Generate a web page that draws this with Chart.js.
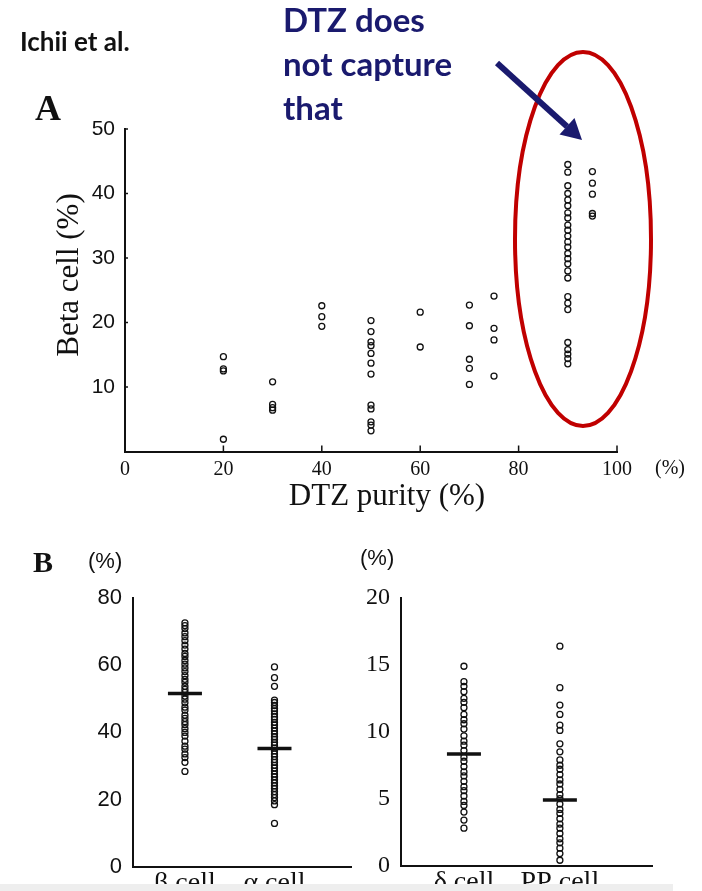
<!DOCTYPE html>
<html>
<head>
<meta charset="utf-8">
<title>Ichii et al.</title>
<script src="https://cdn.jsdelivr.net/npm/chart.js@4.4.1/dist/chart.umd.min.js"></script>
<style>
  html, body { margin: 0; padding: 0; background: #fff; }
  #page { position: relative; width: 702px; height: 891px; overflow: hidden; }
  canvas { position: absolute; }
  #chartA { left: 0; top: 0; }
  #chartBL { left: 0; top: 540px; }
  #chartBR { left: 340px; top: 540px; }
  #overlay { position: absolute; left: 0; top: 0; pointer-events: none; }
</style>
</head>
<body>
<div id="page">
  <canvas id="chartA" width="702" height="530"></canvas>
  <canvas id="chartBL" width="372" height="351"></canvas>
  <canvas id="chartBR" width="362" height="351"></canvas>
  <svg id="overlay" width="702" height="891">
    <text x="20" y="51" font-family="Lato" font-weight="700" font-size="26" fill="#111">Ichii et al.</text>
    <text x="35" y="120" font-family="Liberation Serif" font-weight="700" font-size="36" fill="#111">A</text>
    <text x="33" y="572" font-family="Liberation Serif" font-weight="700" font-size="30" fill="#111">B</text>

    <!-- títulos dos eixos do painel A -->
    <text transform="translate(78,275) rotate(-90)" text-anchor="middle" font-family="Liberation Serif" font-size="31" fill="#111">Beta cell (%)</text>
    <text x="387" y="505" text-anchor="middle" font-family="Liberation Serif" font-size="31" fill="#111">DTZ purity (%)</text>
    <text x="655" y="474" font-family="Liberation Serif" font-size="20" fill="#111">(%)</text>
    <text x="88" y="568" font-family="Liberation Sans" font-size="22" fill="#111">(%)</text>
    <text x="360" y="565" font-family="Liberation Sans" font-size="22" fill="#111">(%)</text>

    <!-- anotação -->
    <g font-family="Lato" font-weight="700" font-size="33" fill="#1a1a6e">
      <text x="283" y="32">DTZ does</text>
      <text x="283" y="76">not capture</text>
      <text x="283" y="120">that</text>
    </g>
    <ellipse cx="583" cy="239" rx="68" ry="187" fill="none" stroke="#c00000" stroke-width="4"/>
    <line x1="497" y1="63" x2="567" y2="126.5" stroke="#1a1a6e" stroke-width="6"/>
    <polygon points="582,140 559.5,134.5 574.5,118" fill="#1a1a6e"/>

    <!-- faixa cinza no rodapé -->
    <rect x="0" y="884" width="673" height="7" fill="#eeeeee"/>
  </svg>
</div>

<script>
// --- DADOS ---
// Painel A: pureza DTZ (%) e fração de células beta (%) em cada preparação
const purityLevels = [20, 30, 40, 50, 60, 70, 75, 90, 95];
const beta20 = [14.7, 12.8, 12.5, 1.9];
const beta30 = [10.8, 7.3, 6.8, 6.4];
const beta40 = [22.6, 20.9, 19.4];
const beta50 = [20.3, 18.6, 17.0, 16.4, 15.2, 13.7, 12.0, 7.2, 6.6, 4.6, 4.1, 3.2];
const beta60 = [21.6, 16.2];
const beta70 = [22.7, 19.5, 14.3, 12.9, 10.4];
const beta75 = [24.1, 19.1, 17.3, 11.7];
const beta90 = [44.5, 43.3, 41.2, 40.0, 39.0, 38.1, 37.0, 36.2, 35.1, 34.3, 33.4, 32.5,
                31.7, 30.7, 29.9, 29.1, 28.0, 26.9, 24.0, 23.0, 22.0, 16.9, 15.8, 15.1, 14.4, 13.6];
const beta95 = [43.4, 41.6, 39.9, 36.9, 36.5];

// Painel B: composição celular (%) por tipo
const cellTypesLeft = ['β cell', 'α cell'];
const betaCell = [72.6, 71.8, 70.9, 69.6, 68.5, 67.3, 66.0, 64.8, 63.5, 62.6, 61.4, 60.3, 59.2,
                  58.1, 56.9, 55.8, 54.9, 53.7, 52.8, 51.9, 50.8, 49.9, 48.8, 47.5, 46.6, 45.1,
                  44.2, 43.2, 42.3, 41.1, 40.0, 38.9, 37.4, 35.9, 35.0, 33.6, 32.5, 31.1, 28.4];
const alphaCell = [59.5, 56.3, 53.7, 49.6, 48.9, 48.0, 47.1, 46.4, 45.5, 44.6, 43.9, 43.0, 42.2,
                   41.3, 40.4, 39.6, 38.7, 37.9, 37.0, 36.2, 35.3, 34.5, 33.6, 32.8, 31.9, 31.1,
                   30.2, 29.4, 28.5, 27.6, 26.8, 25.9, 25.0, 24.1, 23.3, 22.4, 21.5, 20.6, 19.6,
                   18.5, 12.9];
const meansLeft = [51.6, 35.2];

const cellTypesRight = ['δ cell', 'PP cell'];
const deltaCell = [14.9, 13.75, 13.4, 13.0, 12.5, 12.2, 11.8, 11.3, 10.9, 10.6, 10.2, 9.7, 9.3,
                   9.0, 8.6, 8.1, 7.8, 7.4, 7.0, 6.7, 6.3, 5.9, 5.6, 5.2, 4.8, 4.5, 4.0, 3.4, 2.8];
const ppCell = [16.4, 13.3, 12.0, 11.3, 10.5, 10.1, 9.1, 8.5, 7.9, 7.5, 7.2, 6.8, 6.4, 6.1, 5.7,
                5.3, 5.0, 4.6, 4.2, 3.9, 3.5, 3.1, 2.8, 2.4, 2.0, 1.7, 1.3, 0.9, 0.4];
const meansRight = [8.35, 4.9];

const INK = '#111111';

// Marcas de escala voltadas para dentro da área do gráfico
const innerTicks = {
    id: 'innerTicks',
    afterDraw(chart, args, opts) {
        const { ctx, scales: { x, y } } = chart;
        ctx.save();
        ctx.strokeStyle = INK;
        ctx.lineWidth = 1.5;
        if (opts.x) {
            x.ticks.forEach(t => {
                if (t.value === x.min) return;
                const px = x.getPixelForValue(t.value);
                ctx.beginPath();
                ctx.moveTo(px, x.top);
                ctx.lineTo(px, x.top - opts.x);
                ctx.stroke();
            });
        }
        if (opts.y) {
            y.ticks.forEach(t => {
                if (t.value === y.min) return;
                const py = y.getPixelForValue(t.value);
                ctx.beginPath();
                ctx.moveTo(y.right, py);
                ctx.lineTo(y.right + opts.y, py);
                ctx.stroke();
            });
        }
        ctx.restore();
    }
};

const circleStyle = {
    pointStyle: 'circle',
    pointRadius: 3,
    pointBorderWidth: 1.3,
    pointBorderColor: INK,
    pointBackgroundColor: 'rgba(0,0,0,0)',
    clip: false
};

// --- PAINEL A (DISPERSÃO) ---
const betaByPurity = [beta20, beta30, beta40, beta50, beta60, beta70, beta75, beta90, beta95];
const purityPoints = purityLevels.flatMap((p, i) => betaByPurity[i].map(v => ({ x: p, y: v })));

new Chart(document.getElementById('chartA'), {
    type: 'scatter',
    data: {
        datasets: [{ data: purityPoints, ...circleStyle }]
    },
    options: {
        responsive: false,
        animation: false,
        layout: { padding: { left: 0, top: 129, right: 85, bottom: 0 } },
        plugins: { legend: { display: false }, tooltip: { enabled: false }, innerTicks: { x: 6, y: 3 } },
        scales: {
            x: {
                type: 'linear', min: 0, max: 100,
                grid: { display: false, drawTicks: false },
                border: { color: INK, width: 2 },
                ticks: { stepSize: 20, color: INK, padding: 6, font: { family: 'Liberation Serif', size: 20 } },
                afterFit: s => { s.height = 78.5; }
            },
            y: {
                type: 'linear', min: 0, max: 50,
                grid: { display: false, drawTicks: false },
                border: { color: INK, width: 2 },
                ticks: {
                    stepSize: 10, color: INK, padding: 10,
                    font: { family: 'Liberation Sans', size: 21 },
                    callback: v => (v === 0 ? '' : v)
                },
                afterFit: s => { s.width = 125; }
            }
        }
    },
    plugins: [innerTicks]
});

// --- PAINEL B (COLUNAS POR TIPO CELULAR) ---
function buildPanel(canvasId, labels, groups, means, opts) {
    const points = groups.flatMap((vals, i) => vals.map(v => ({ x: i + 1, y: v })));
    const meanPoints = means.map((m, i) => ({ x: i + 1, y: m }));

    return new Chart(document.getElementById(canvasId), {
        type: 'scatter',
        data: {
            datasets: [{
                // média de cada grupo: traço horizontal
                data: meanPoints,
                pointStyle: 'line',
                pointRadius: 17,
                pointBorderWidth: 3.5,
                pointBorderColor: INK,
                clip: false,
                order: 0
            }, {
                data: points,
                ...circleStyle,
                order: 1
            }]
        },
        options: {
            responsive: false,
            animation: false,
            layout: { padding: { left: 0, top: 58, right: opts.padRight, bottom: 0 } },
            plugins: { legend: { display: false }, tooltip: { enabled: false } },
            scales: {
                x: {
                    type: 'linear', min: opts.xMin, max: opts.xMax,
                    grid: { display: false, drawTicks: false },
                    border: { color: INK, width: 2 },
                    afterBuildTicks: s => { s.ticks = labels.map((_, i) => ({ value: i + 1 })); },
                    ticks: {
                        autoSkip: false, maxRotation: 0, color: INK, padding: 0,
                        font: { family: 'Liberation Serif', size: 28 },
                        callback: v => labels[v - 1]
                    },
                    afterFit: s => { s.height = 19; }
                },
                y: {
                    type: 'linear', min: 0, max: opts.yMax,
                    grid: { display: false, drawTicks: false },
                    border: { color: INK, width: 2 },
                    ticks: { stepSize: opts.yStep, color: INK, padding: 11, font: opts.tickFont },
                    afterFit: s => { s.width = opts.yWidth; }
                }
            }
        }
    });
}

buildPanel('chartBL', cellTypesLeft, [betaCell, alphaCell], meansLeft, {
    xMin: 0.42, xMax: 2.86, yMax: 80, yStep: 20, padRight: 3, yWidth: 133,
    tickFont: { family: 'Liberation Sans', size: 22 }
});

buildPanel('chartBR', cellTypesRight, [deltaCell, ppCell], meansRight, {
    xMin: 0.344, xMax: 2.96, yMax: 20, yStep: 5, padRight: 50, yWidth: 61,
    tickFont: { family: 'Liberation Serif', size: 24 }
});
</script>
</body>
</html>
